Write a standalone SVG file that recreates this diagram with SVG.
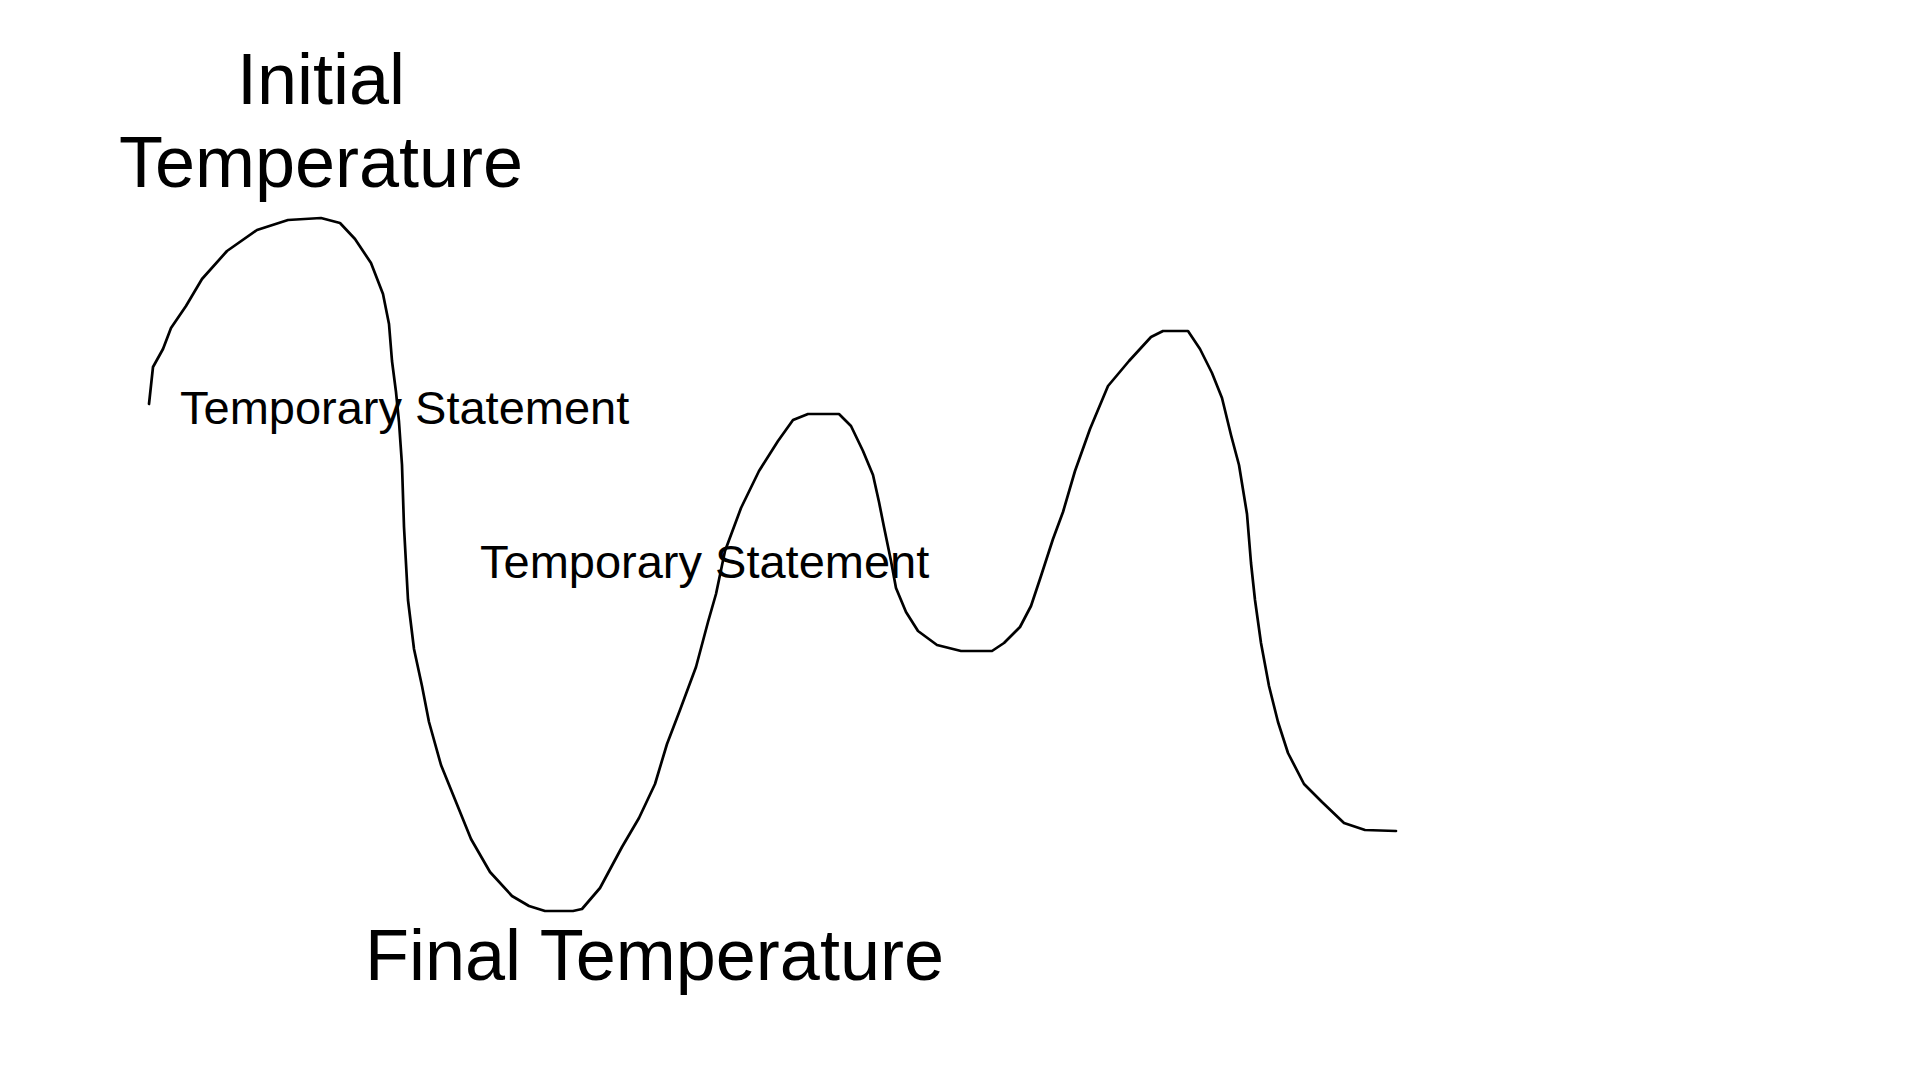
<svg xmlns="http://www.w3.org/2000/svg" width="1920" height="1080" viewBox="0 0 1920 1080">
<style>
.t{font-family:"Liberation Sans",Arial,sans-serif;fill:#000}
.big{font-size:72px}
.small{font-size:47px}
.curve{fill:none;stroke:#000;stroke-width:2.7;stroke-linejoin:round;stroke-linecap:round}
</style>
<rect width="1920" height="1080" fill="#fff"/>
<path class="curve" d="M149,404 L153,367 L163,349 L171,328 L186,306 L202,279 L227,251 L257,230 L288,220 L321,218 L340,223 L355,239 L371,263 L383,294 L389,324 L392,361 L396,392 L399,422 L402,465 L404,527 L408,600 L414,649 L422,686 L429,722 L441,765 L456,802 L471,839 L490,872 L512,896 L529,906 L545,911 L573,911 L582,909 L600,888 L622,847 L639,818 L655,784 L667,744 L680,710 L696,667 L708,622 L716,594 L725,551 L741,508 L759,471 L778,441 L793,420 L808,414 L839,414 L851,426 L863,451 L873,475 L879,502 L884,527 L891,561 L896,588 L906,612 L918,631 L937,645 L961,651 L992,651 L1004,643 L1020,627 L1031,606 L1041,576 L1053,539 L1063,512 L1075,471 L1090,429 L1108,386 L1129,361 L1151,337 L1163,331 L1188,331 L1200,349 L1212,373 L1222,398 L1231,435 L1239,465 L1247,514 L1251,563 L1255,600 L1261,643 L1269,686 L1278,722 L1288,753 L1304,784 L1322,802 L1344,823 L1365,830 L1396,831"/>
<g id="initial-temperature">
<text class="t big" x="321" y="104" text-anchor="middle">Initial</text>
<text class="t big" x="321" y="187" text-anchor="middle">Temperature</text>
</g>
<text id="temp-statement-1" class="t small" x="180" y="424">Temporary Statement</text>
<text id="temp-statement-2" class="t small" x="480" y="578">Temporary Statement</text>
<text id="final-temperature" class="t big" x="365" y="980">Final Temperature</text>
</svg>
